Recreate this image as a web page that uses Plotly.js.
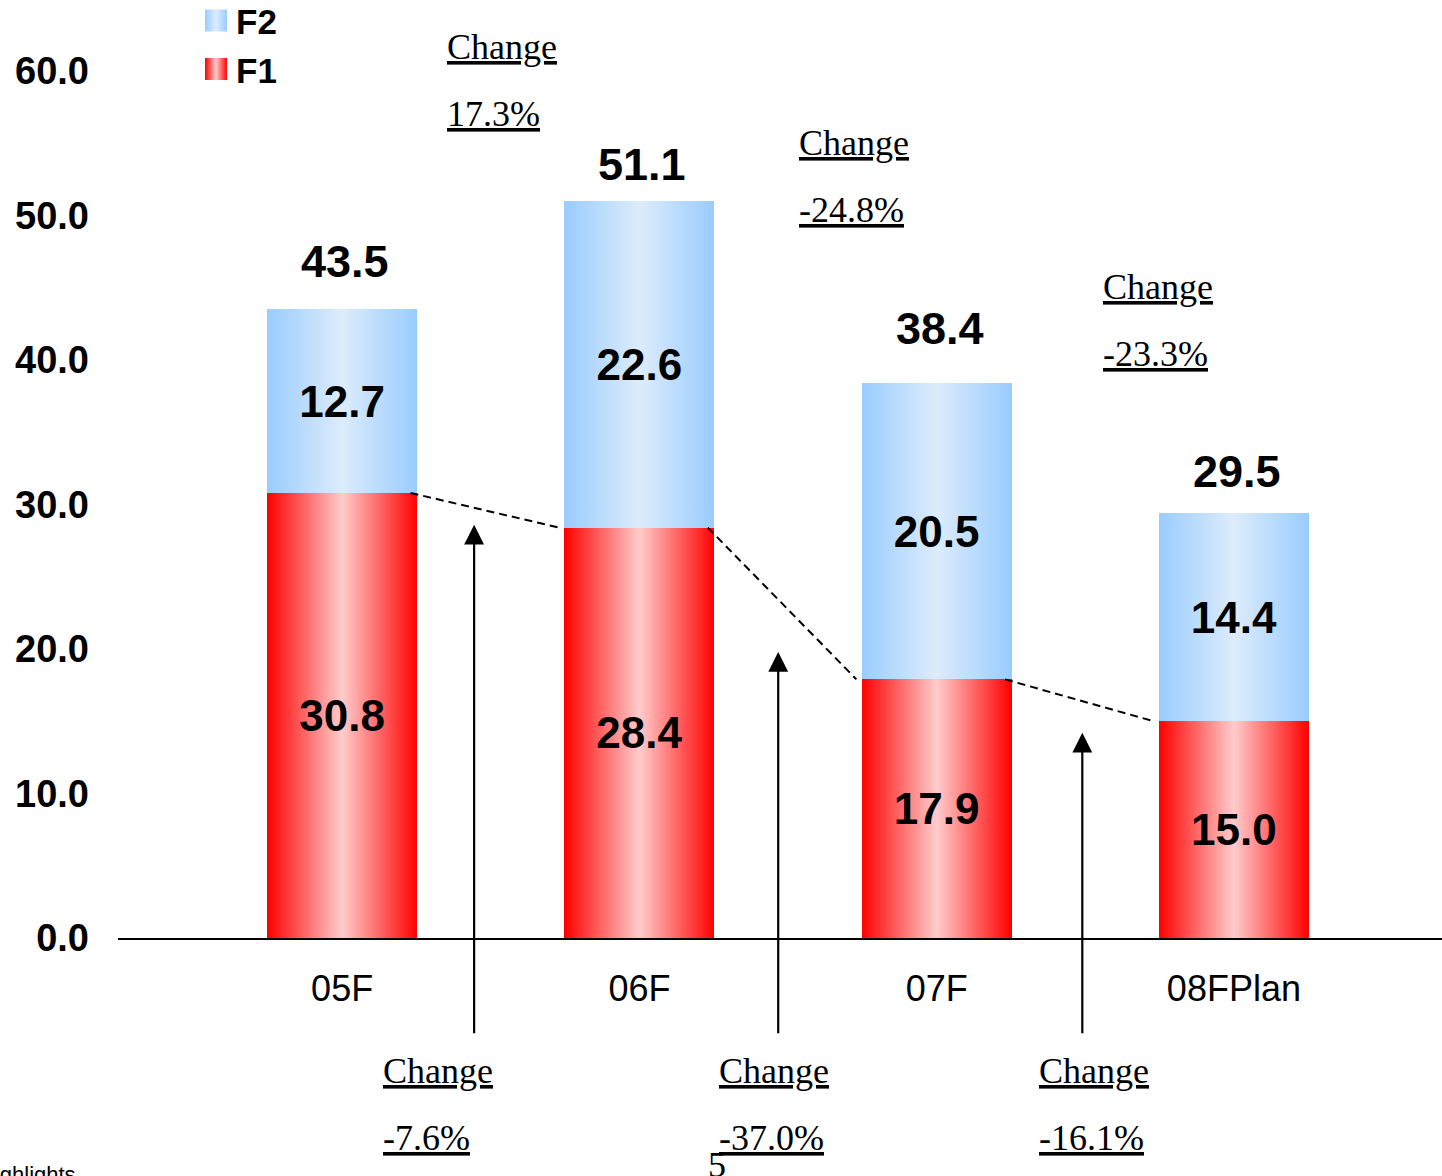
<!DOCTYPE html>
<html>
<head>
<meta charset="utf-8">
<script src="https://cdn.plot.ly/plotly-3.0.1.min.js"></script>
<style>html,body{margin:0;padding:0;background:#fff;}#chart{width:1442px;height:1176px;}</style>
</head>
<body>
<div id="chart"></div>
<script>
// ---- data ----
const categories = ["05F", "06F", "07F", "08FPlan"];
const f1Values = [30.8, 28.4, 17.9, 15.0];
const f2Values = [12.7, 22.6, 20.5, 14.4];
const totals = [43.5, 51.1, 38.4, 29.5];
const topChangeLabels = ["17.3%", "-24.8%", "-23.3%"];      // total change
const bottomChangeLabels = ["-7.6%", "-37.0%", "-16.1%"];   // F1 change
// annotation placement (category index / value units / px offsets)
const totalLabelOffsetPx = [48, 35, 55, 40];
const topChangeX = [0.347, 1.531, 2.554];
const topChangeY = [1.028, 0.917, 0.751];   // paper units for "Change" word
const bottomChangeX = [0.131, 1.262, 2.339];
const arrowX = [0.444, 1.467, 2.49];
const arrowTipY = [28.6, 19.8, 14.2];
const arrowTailY = -6.7;

const sans = "Liberation Sans, Arial, sans-serif";
const serif = "Liberation Serif, Times New Roman, serif";

const traces = [
  {
    type: "bar", name: "F1", x: categories, y: f1Values,
    marker: {color: "#ff6666", line: {width: 0}},
    texttemplate: "%{y:.1f}", textposition: "inside", insidetextanchor: "middle",
    textfont: {family: sans, size: 44, color: "#000", weight: 700},
    constraintext: "none", hoverinfo: "skip"
  },
  {
    type: "bar", name: "F2", x: categories, y: f2Values,
    marker: {color: "#bbddff", line: {width: 0}},
    texttemplate: "%{y:.1f}", textposition: "inside", insidetextanchor: "middle",
    textfont: {family: sans, size: 44, color: "#000", weight: 700},
    constraintext: "none", hoverinfo: "skip"
  }
];

const annotations = [];
// totals above bars
totals.forEach((t, i) => {
  annotations.push({x: i, y: t, xref: "x", yref: "y", text: t.toFixed(1), showarrow: false,
    yanchor: "middle", yshift: totalLabelOffsetPx[i], xshift: 3,
    font: {family: sans, size: 45, color: "#000", weight: 700}});
});
const h = 867; // plot height px, for converting line spacing
topChangeLabels.forEach((lab, i) => {
  annotations.push({x: topChangeX[i], y: topChangeY[i], xref: "x", yref: "paper", text: "Change",
    showarrow: false, xanchor: "left", yanchor: "middle",
    font: {family: serif, size: 36, color: "#000", lineposition: "under"}});
  annotations.push({x: topChangeX[i], y: topChangeY[i] - 67 / h, xref: "x", yref: "paper", text: lab,
    showarrow: false, xanchor: "left", yanchor: "middle",
    font: {family: serif, size: 36, color: "#000", lineposition: "under"}});
});
bottomChangeLabels.forEach((lab, i) => {
  annotations.push({x: bottomChangeX[i], y: -133 / h, xref: "x", yref: "paper", text: "Change",
    showarrow: false, xanchor: "left", yanchor: "middle",
    font: {family: serif, size: 36, color: "#000", lineposition: "under"}});
  annotations.push({x: bottomChangeX[i], y: -200 / h, xref: "x", yref: "paper", text: lab,
    showarrow: false, xanchor: "left", yanchor: "middle",
    font: {family: serif, size: 36, color: "#000", lineposition: "under"}});
});
// arrows
arrowX.forEach((ax, i) => {
  annotations.push({x: ax, y: arrowTipY[i], xref: "x", yref: "y", ax: ax, ay: arrowTailY,
    axref: "x", ayref: "y", text: "", showarrow: true, arrowhead: 2, arrowsize: 1.8,
    arrowwidth: 2.2, arrowcolor: "#000", standoff: 0});
});
// slide artefacts at bottom edge
annotations.push({x: (78 - 118) / 1324, y: -(1160 - 938) / h, xref: "paper", yref: "paper", text: "Highlights",
  showarrow: false, xanchor: "right", yanchor: "top",
  font: {family: sans, size: 22, color: "#000"}});
annotations.push({x: (717 - 118) / 1324, y: -(1143 - 938) / h, xref: "paper", yref: "paper", text: "5",
  showarrow: false, xanchor: "center", yanchor: "top",
  font: {family: serif, size: 36, color: "#000"}});

// dashed connectors between F1 tops
const shapes = [];
for (let i = 0; i < f1Values.length - 1; i++) {
  shapes.push({type: "line", xref: "x", yref: "y", x0: i + 0.23, y0: f1Values[i],
    x1: i + 0.73, y1: f1Values[i + 1], layer: "above",
    line: {color: "#000", width: 2, dash: "8px,5px"}});
}

const layout = {
  width: 1442, height: 1176,
  margin: {l: 118, r: 0, t: 71, b: 238, pad: 0, autoexpand: false},
  paper_bgcolor: "#fff", plot_bgcolor: "#fff",
  barmode: "stack", bargap: 0.495,
  showlegend: true,
  legend: {x: (196 - 118) / 1324, xanchor: "left", y: 1.092, yanchor: "top", traceorder: "reversed",
    font: {family: sans, size: 35, color: "#000", weight: 700}, bgcolor: "rgba(0,0,0,0)"},
  xaxis: {type: "category", range: [-0.754, 3.70], showgrid: false, zeroline: false,
    showline: true, linecolor: "#000", linewidth: 2, ticks: "", ticklabelstandoff: 18,
    tickfont: {family: sans, size: 36, color: "#000"}, fixedrange: true},
  yaxis: {range: [0, 60], dtick: 10, tickformat: ".1f", showgrid: false, zeroline: false,
    showline: false, ticks: "", ticklabelstandoff: 28,
    tickfont: {family: sans, size: 38, color: "#000", weight: 700}, fixedrange: true},
  annotations: annotations,
  shapes: shapes
};

function addGradient(defs, id, edge, mid) {
  const ns = "http://www.w3.org/2000/svg";
  const g = document.createElementNS(ns, "linearGradient");
  g.setAttribute("id", id);
  g.setAttribute("x1", "0"); g.setAttribute("y1", "0");
  g.setAttribute("x2", "1"); g.setAttribute("y2", "0");
  [[0, edge], [0.5, mid], [1, edge]].forEach(([o, c]) => {
    const s = document.createElementNS(ns, "stop");
    s.setAttribute("offset", o);
    s.setAttribute("stop-color", c);
    g.appendChild(s);
  });
  defs.appendChild(g);
}

Plotly.newPlot("chart", traces, layout, {staticPlot: true, displayModeBar: false}).then(gd => {
  const svg = gd.querySelector(".main-svg");
  let defs = svg.querySelector("defs");
  if (!defs) { defs = document.createElementNS("http://www.w3.org/2000/svg", "defs"); svg.insertBefore(defs, svg.firstChild); }
  addGradient(defs, "gradF1", "#ff0000", "#ffcccc");
  addGradient(defs, "gradF2", "#99ccff", "#ddecfb");
  const ids = ["gradF1", "gradF2"];
  gd.querySelectorAll(".barlayer .trace").forEach((t, i) => {
    t.querySelectorAll(".point path").forEach(p => { p.style.fill = "url(#" + ids[i] + ")"; });
  });
  gd.querySelectorAll(".legend .traces").forEach(t => {
    const name = t.querySelector(".legendtext").textContent;
    t.querySelectorAll(".legendpoints path").forEach(p => {
      p.setAttribute("d", "M11,11H-11V-11H11Z");
      p.style.fill = "url(#" + (name === "F1" ? "gradF1" : "gradF2") + ")";
      p.style.stroke = "none";
    });
  });
});
</script>
</body>
</html>
